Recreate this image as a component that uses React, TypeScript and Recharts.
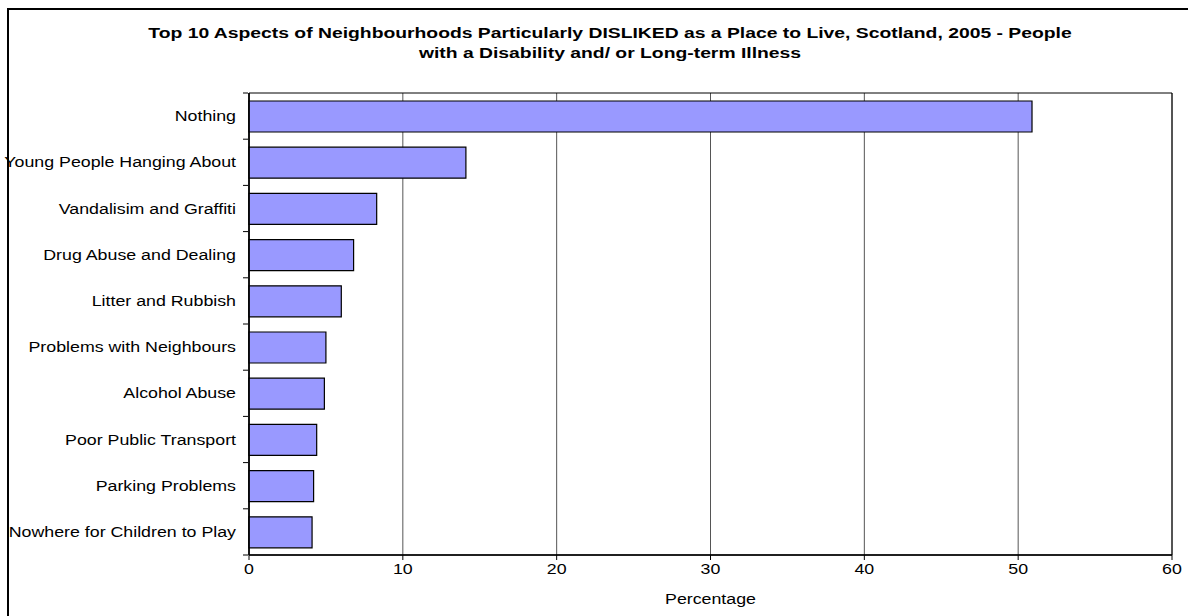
import { BarChart, Bar, XAxis, YAxis, CartesianGrid, ReferenceArea, Label } from "recharts";

const categories = [
  "Nothing",
  "Young People Hanging About",
  "Vandalisim and Graffiti",
  "Drug Abuse and Dealing",
  "Litter and Rubbish",
  "Problems with Neighbours",
  "Alcohol Abuse",
  "Poor Public Transport",
  "Parking Problems",
  "Nowhere for Children to Play",
];
const percentages = [50.9, 14.1, 8.3, 6.8, 6.0, 5.0, 4.9, 4.4, 4.2, 4.1];
const xTicks = [0, 10, 20, 30, 40, 50, 60];

const data = categories.map((name, i) => ({ name, value: percentages[i] }));

const FONT = "Arial, 'Liberation Sans', sans-serif";
const TOP = 93;
const BOTTOM = 555;
const band = (BOTTOM - TOP) / categories.length;
// the source image is stretched sideways, so the text is too
const STRETCH = 1.27;

function CategoryTick(props: any) {
  const { x, y, payload } = props;
  return (
    <g>
      <line x1={x + 2} x2={x + 7} y1={y - band / 2} y2={y - band / 2} stroke="#000" />
      {payload.index === categories.length - 1 && (
        <line x1={x + 2} x2={x + 7} y1={y + band / 2} y2={y + band / 2} stroke="#000" />
      )}
      <g transform={`translate(${x - 5},${y}) scale(${STRETCH},1)`}>
        <text textAnchor="end" dy={5} fontSize={14} fontFamily={FONT} fill="#000">
          {payload.value}
        </text>
      </g>
    </g>
  );
}

function ValueTick(props: any) {
  const { x, y, payload } = props;
  return (
    <g transform={`translate(${x},${y}) scale(${STRETCH},1)`}>
      <text textAnchor="middle" dy={10} fontSize={14} fontFamily={FONT} fill="#000">
        {payload.value}
      </text>
    </g>
  );
}

function AxisTitle(props: any) {
  const { viewBox } = props;
  const cx = viewBox.x + viewBox.width / 2;
  return (
    <g transform={`translate(${cx},${viewBox.y + 49}) scale(${STRETCH},1)`}>
      <text textAnchor="middle" fontSize={14} fontFamily={FONT} fill="#000">
        Percentage
      </text>
    </g>
  );
}

export default function App() {
  return (
    <div style={{ position: "absolute", left: 0, top: 0, width: 1188, height: 616, background: "#fff", overflow: "hidden" }}>
      <div
        style={{
          position: "absolute",
          left: 7,
          top: 8,
          width: 1200,
          height: 640,
          border: "2px solid #000",
        }}
      />
      <div
        style={{
          position: "absolute",
          left: 610,
          top: 23,
          whiteSpace: "nowrap",
          textAlign: "center",
          fontFamily: FONT,
          fontWeight: "bold",
          fontSize: 14,
          lineHeight: "20px",
          transform: "translateX(-50%) scaleX(1.38)",
        }}
      >
        Top 10 Aspects of Neighbourhoods Particularly DISLIKED as a Place to Live, Scotland, 2005 - People
        <br />
        with a Disability and/ or Long-term Illness
      </div>
      <div style={{ position: "absolute", left: 0, top: 0 }}>
        <BarChart
          width={1188}
          height={616}
          data={data}
          layout="vertical"
          margin={{ top: TOP, right: 16, bottom: 0, left: 0 }}
          barSize={31}
        >
          <CartesianGrid horizontal={false} stroke="#555" strokeWidth={1} />
          <XAxis
            type="number"
            domain={[0, 60]}
            ticks={xTicks}
            interval={0}
            axisLine={{ stroke: "#000", strokeWidth: 1.5 }}
            tickLine={{ stroke: "#000" }}
            tickSize={5}
            tickMargin={4}
            tick={<ValueTick />}
            height={616 - BOTTOM}
          >
            <Label content={<AxisTitle />} />
          </XAxis>
          <YAxis
            type="category"
            dataKey="name"
            width={249}
            interval={0}
            axisLine={{ stroke: "#000", strokeWidth: 1.5 }}
            tickLine={false}
            tick={<CategoryTick />}
          />
          <ReferenceArea x1={0} x2={60} fill="none" stroke="#000" strokeWidth={1} ifOverflow="visible" />
          <Bar dataKey="value" fill="#9999FF" stroke="#000" strokeWidth={1.2} isAnimationActive={false} />
        </BarChart>
      </div>
    </div>
  );
}
